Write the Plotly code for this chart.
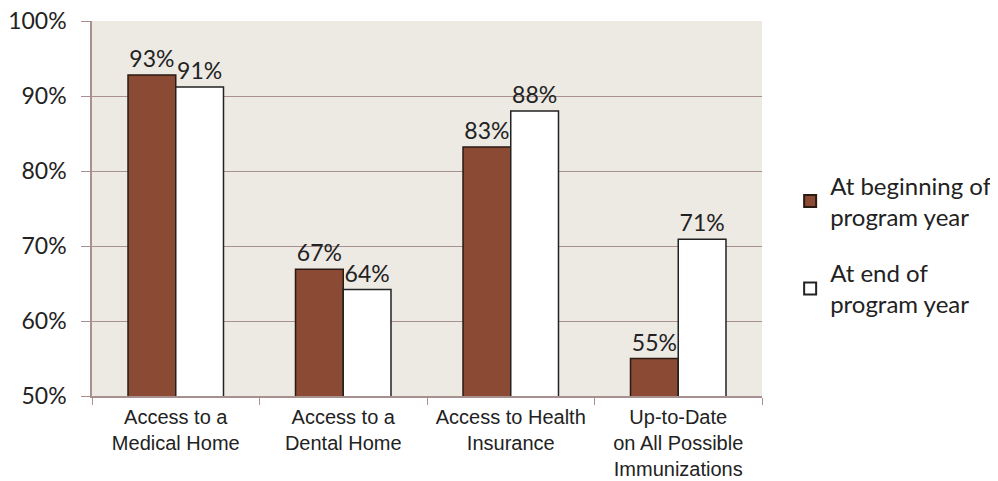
import plotly.graph_objects as go

categories = ["Access to a<br>Medical Home", "Access to a<br>Dental Home",
              "Access to Health<br>Insurance", "Up-to-Date<br>on All Possible<br>Immunizations"]
beginning = [92.8, 66.9, 83.2, 55.0]
end = [91.2, 64.2, 88.0, 70.9]
series_names = ["At beginning of<br>program year", "At end of<br>program year"]
tick_vals = [50, 60, 70, 80, 90, 100]
tick_text = ["50%", "60%", "70%", "80%", "90%", "100%"]

label_font = dict(family="Lato, Open Sans, sans-serif", size=23, color="#222222")

fig = go.Figure()
fig.add_trace(go.Bar(
    x=categories, y=beginning, name=series_names[0], legendgroup="a",
    marker=dict(color="#8B4A33", line=dict(color="#2a1a12", width=1.5)),
    text=[f"{round(v)}%" for v in beginning], textposition="outside",
    textfont=label_font, cliponaxis=False,
))
fig.add_trace(go.Bar(
    x=categories, y=end, name=series_names[1], legendgroup="b",
    marker=dict(color="#FFFFFF", line=dict(color="#222222", width=1.5)),
    text=[f"{round(v)}%" for v in end], textposition="outside",
    textfont=label_font, cliponaxis=False,
))

grid_color = "#A89090"
fig.update_layout(
    width=990, height=473,
    margin=dict(l=84, r=236, t=13, b=85, pad=0, autoexpand=False),
    paper_bgcolor="white", plot_bgcolor="#EDE9E3",
    barmode="group", bargap=0.43, bargroupgap=0,
    showlegend=True,
    legend=dict(x=1.042, y=0.403, xanchor="left", yanchor="middle",
                font=dict(family="Lato, Open Sans, sans-serif", size=24, color="#222222"),
                traceorder="grouped", itemsizing="constant", tracegroupgap=22,
                bgcolor="rgba(0,0,0,0)"),
    xaxis=dict(type="category", tickson="boundaries", ticks="outside", ticklen=7,
               tickcolor=grid_color, showline=True, linecolor=grid_color, linewidth=1.5,
               ticklabelstandoff=2, ticklabeloverflow="allow",
               tickfont=dict(family="Liberation Sans, Arial, sans-serif", size=20, color="#222222"),
               showgrid=False, automargin=False),
    yaxis=dict(range=[50, 100], tickvals=tick_vals, ticktext=tick_text,
               ticks="outside", ticklen=9, tickcolor=grid_color, ticklabelstandoff=10,
               ticklabeloverflow="allow",
               showline=True, linecolor=grid_color, linewidth=1.5,
               gridcolor=grid_color, gridwidth=1.2, zeroline=False, automargin=False,
               tickfont=dict(family="Lato, Open Sans, sans-serif", size=23, color="#222222")),
)

fig.write_html("out.html")
